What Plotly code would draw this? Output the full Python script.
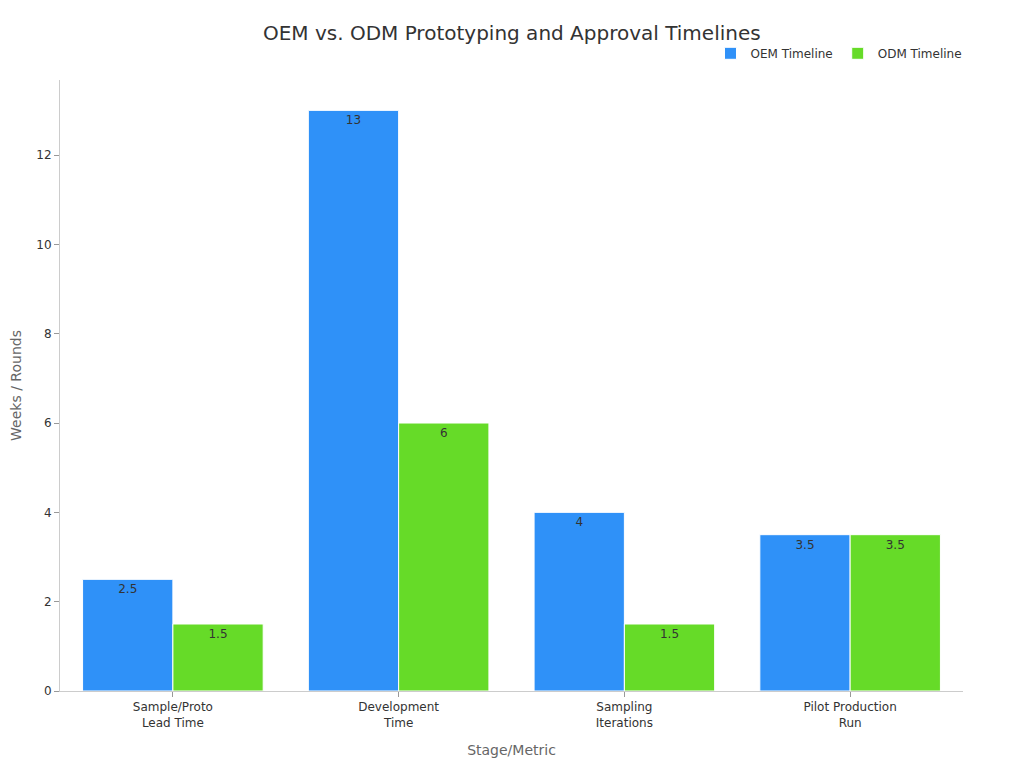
import plotly.graph_objects as go

categories = ["Sample/Proto<br>Lead Time", "Development<br>Time", "Sampling<br>Iterations", "Pilot Production<br>Run"]
oem_values = [2.5, 13, 4, 3.5]
odm_values = [1.5, 6, 1.5, 3.5]
oem_labels = ["2.5", "13", "4", "3.5"]
odm_labels = ["1.5", "6", "1.5", "3.5"]

font_family = "DejaVu Sans, sans-serif"

fig = go.Figure()
fig.add_trace(go.Bar(
    name="OEM Timeline", x=categories, y=oem_values,
    text=oem_labels, textposition="inside", insidetextanchor="end",
    textfont=dict(color="#333333", size=12, family=font_family),
    marker=dict(color="#2f91f8", line=dict(color="#ffffff", width=1)),
))
fig.add_trace(go.Bar(
    name="ODM Timeline", x=categories, y=odm_values,
    text=odm_labels, textposition="inside", insidetextanchor="end",
    textfont=dict(color="#333333", size=12, family=font_family),
    marker=dict(color="#66db28", line=dict(color="#ffffff", width=1)),
))

fig.update_layout(
    width=1024, height=768,
    paper_bgcolor="white", plot_bgcolor="white",
    font=dict(family=font_family, color="#333333", size=12),
    title=dict(text="OEM vs. ODM Prototyping and Approval Timelines", x=0.492, xanchor="center",
               y=0.9674, yanchor="middle", font=dict(size=20, color="#333333")),
    barmode="group", bargap=0.2, bargroupgap=0,
    margin=dict(l=52, r=69, t=72, b=85),
    legend=dict(orientation="h", xref="container", yref="container", x=0.937, xanchor="right",
                y=0.941, yanchor="middle",
                font=dict(size=12, color="#333333"), itemwidth=30),
    xaxis=dict(title=dict(text="Stage/Metric", font=dict(size=14, color="#666666"), standoff=16),
               showline=True, linecolor="#cccccc", ticks="outside", tickcolor="#999999", ticklen=5,
               showgrid=False, tickfont=dict(size=12, color="#333333")),
    yaxis=dict(title=dict(text="Weeks / Rounds", font=dict(size=14, color="#666666")),
               automargin=False,
               range=[0, 13.68], dtick=2, showline=True, linecolor="#cccccc", ticks="outside",
               tickcolor="#999999", ticklen=5, showgrid=False, zeroline=False,
               tickfont=dict(size=12, color="#333333")),
    uniformtext=dict(mode="show", minsize=12),
)

fig.write_html("out.html")
